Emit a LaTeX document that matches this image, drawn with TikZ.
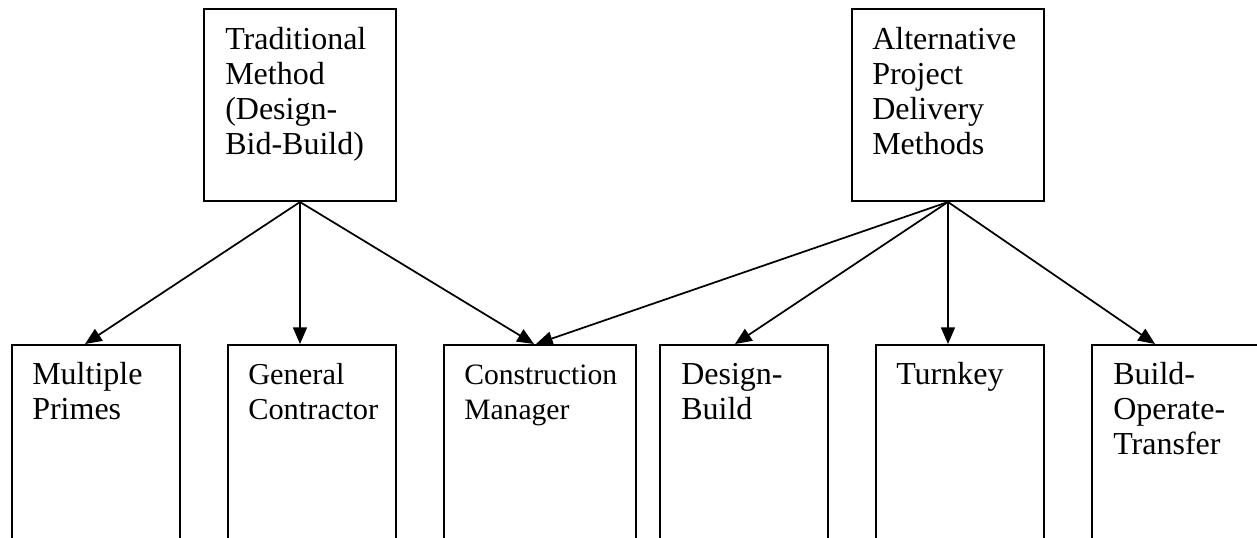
\documentclass[tikz,border=0pt]{standalone}
\usepackage{fontspec}
\setmainfont{Liberation Serif}
\usetikzlibrary{arrows.meta,calc}

\tikzset{
  box/.style={draw=black, line width=1.5pt, inner sep=0pt, fill=none},
  topbox/.style={box, minimum width=144pt, minimum height=144pt},
  lowbox/.style={box, minimum width=126pt, minimum height=147pt},
  widebox/.style={box, minimum width=144pt, minimum height=147pt},
  boxtext/.style={anchor=base west, inner sep=0pt, text width=200pt, align=left,
    font=\fontsize{24}{26.4}\selectfont},
  link/.style={line width=1.3pt, -{Triangle[length=12.5pt,width=10.5pt]}}
}

\begin{document}
\begin{tikzpicture}[x=0.75pt,y=-0.75pt]
  \path[use as bounding box] (0,0) rectangle (1257,537);
  \fill[white] (0,0) rectangle (1257,537);
  \clip (0,0) rectangle (1257,537);

  % upper level: the two families of delivery methods
  \node[topbox] (trad) at (300,105) {};
  \node[topbox] (alt)  at (948,105) {};

  % lower level: the individual methods (they run on below the page edge)
  \node[lowbox]  (mp)  at (96,443)   {};
  \node[lowbox]  (gc)  at (312,443)  {};
  \node[widebox] (cm)  at (540,443)  {};
  \node[lowbox]  (db)  at (744,443)  {};
  \node[lowbox]  (tk)  at (960,443)  {};
  \node[lowbox]  (bot) at (1176,443) {};

  % box captions
  \node[boxtext] (tradtext) at ($(trad.north west)+(22,41)$)
    {Traditional\\Method\\(Design-\\Bid-Build)};
  \node[boxtext] (alttext) at ($(alt.north west)+(21,41)$)
    {Alternative\\Project\\Delivery\\Methods};
  \node[boxtext] (mptext) at ($(mp.north west)+(21,40)$)
    {Multiple\\Primes};
  \node[boxtext, font=\fontsize{22.8}{26.4}\selectfont] (gctext) at ($(gc.north west)+(21,40)$)
    {General\\Contractor};
  \node[boxtext, font=\fontsize{22.2}{26.4}\selectfont] (cmtext) at ($(cm.north west)+(21,40)$)
    {Construction\\Manager};
  \node[boxtext] (dbtext) at ($(db.north west)+(22,40)$)
    {Design-\\Build};
  \node[boxtext] (tktext) at ($(tk.north west)+(21,40)$)
    {Turnkey};
  \node[boxtext] (bottext) at ($(bot.north west)+(22,40)$)
    {Build-\\Operate-\\Transfer};

  % connectors from the traditional method
  \draw[link] (trad.south) -- ($(mp.north)+(-11,0)$);
  \draw[link] (trad.south) -- ($(gc.north)+(-12,0)$);
  \draw[link] (trad.south) -- ($(cm.north)+(-6,0)$);

  % connectors from the alternative methods
  \draw[link] (alt.south) -- ($(cm.north)+(-4,0)$);
  \draw[link] (alt.south) -- ($(db.north)+(-9,0)$);
  \draw[link] (alt.south) -- ($(tk.north)+(-12,0)$);
  \draw[link] (alt.south) -- ($(bot.north)+(-21,0)$);
\end{tikzpicture}
\end{document}
